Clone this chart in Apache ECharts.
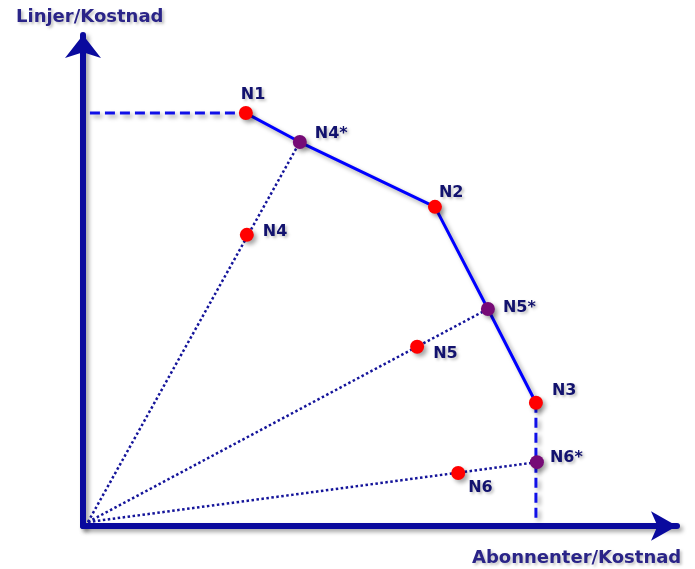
<!DOCTYPE html>
<html>
<head>
<meta charset="utf-8">
<script src="https://cdn.jsdelivr.net/npm/echarts@6/dist/echarts.min.js"></script>
<style>
  html, body { margin: 0; padding: 0; background: #fff; }
  #chart { width: 695px; height: 569px; }
</style>
</head>
<body>
<div id="chart"></div>
<script>
// observed units (red points)
var unitNames = ['N1', 'N2', 'N3', 'N4', 'N5', 'N6']
var unitX = [3.29, 7.11, 9.15, 3.31, 6.75, 7.58]
var unitY = [8.41, 6.50, 2.51, 5.93, 3.65, 1.08]

// projections on the frontier (purple points)
var projNames = ['N4*', 'N5*', 'N6*']
var projX = [4.38, 8.18, 9.17]
var projY = [7.82, 4.42, 1.30]

// frontier order: N1 -> N4* -> N2 -> N5* -> N3
var frontierX = [3.29, 4.38, 7.11, 8.18, 9.15]
var frontierY = [8.41, 7.82, 6.50, 4.42, 2.51]

var rayOrigin = [0.1, 0.08]
var dashStartX = 0.14
var dashEndY = 0.14

var axisNameY = 'Linjer/Kostnad'
var axisNameX = 'Abonnenter/Kostnad'

// label offsets (text left, text middle) from the point centre
var unitLabelOffset = [[-5, -18], [4, -14], [16, -12], [16, -3], [16, 7], [10, 15]]
var projLabelOffset = [[15, -8], [15, -1], [13, -4]]

var FONT = '"DejaVu Sans", Verdana, sans-serif'
var shadow = {
  shadowColor: 'rgba(0,0,0,0.35)',
  shadowBlur: 4,
  shadowOffsetX: 3,
  shadowOffsetY: 3
}

function pts(xs, ys) {
  var out = []
  for (var i = 0; i < xs.length; i++) out.push([xs[i], ys[i]])
  return out
}

function labelled(names, xs, ys, offsets) {
  var out = []
  for (var i = 0; i < names.length; i++) {
    out.push({
      name: names[i],
      value: [xs[i], ys[i]],
      label: {position: [offsets[i][0] + 7, offsets[i][1] + 7]}
    })
  }
  return out
}

var labelStyle = {
  show: true,
  formatter: '{b}',
  align: 'left',
  verticalAlign: 'middle',
  fontFamily: FONT,
  fontWeight: 'bold',
  fontSize: 16,
  color: '#12126e',
  textShadowColor: 'rgba(0,0,0,0.25)',
  textShadowBlur: 3,
  textShadowOffsetX: 2,
  textShadowOffsetY: 2
}

var axisLine = {
  show: true,
  symbol: ['none', 'arrow'],
  lineStyle: Object.assign({color: '#0a0a9e', width: 6}, shadow)
}

var series = []

// dotted rays from origin to projections
for (var i = 0; i < projX.length; i++) {
  series.push({
    type: 'line',
    data: [rayOrigin, [projX[i], projY[i]]],
    symbol: 'none',
    silent: true,
    z: 1,
    lineStyle: {color: '#14149a', width: 2.5, type: [2.5, 2.5]}
  })
}

// dashed extensions
series.push({
  type: 'line',
  data: [[dashStartX, frontierY[0]], [frontierX[0], frontierY[0]]],
  symbol: 'none',
  z: 2,
  lineStyle: Object.assign({color: '#1010e8', width: 3, type: [10, 5]}, shadow)
})
series.push({
  type: 'line',
  data: [[frontierX[4], frontierY[4]], [frontierX[4], dashEndY]],
  symbol: 'none',
  z: 2,
  lineStyle: Object.assign({color: '#1010e8', width: 3, type: [10, 5]}, shadow)
})

// frontier
series.push({
  type: 'line',
  data: pts(frontierX, frontierY),
  symbol: 'none',
  z: 3,
  lineStyle: Object.assign({color: '#0000ff', width: 3}, shadow)
})

series.push({
  type: 'scatter',
  data: labelled(unitNames, unitX, unitY, unitLabelOffset),
  symbolSize: 14,
  z: 5,
  itemStyle: Object.assign({color: '#ff0000', opacity: 1}, shadow),
  label: labelStyle
})
series.push({
  type: 'scatter',
  data: labelled(projNames, projX, projY, projLabelOffset),
  symbolSize: 14,
  z: 5,
  itemStyle: Object.assign({color: '#760a76', opacity: 1}, shadow),
  label: labelStyle
})

var chart = echarts.init(document.getElementById('chart'))
chart.setOption({
  backgroundColor: '#fff',
  animation: false,
  grid: {left: 83, top: 35, right: 18, bottom: 43},
  xAxis: {
    type: 'value', min: 0, max: 12,
    axisLine: Object.assign({symbolSize: [22, 26]}, axisLine),
    axisTick: {show: false}, axisLabel: {show: false}, splitLine: {show: false}
  },
  yAxis: {
    type: 'value', min: 0, max: 10,
    axisLine: Object.assign({symbolSize: [27, 23]}, axisLine),
    axisTick: {show: false}, axisLabel: {show: false}, splitLine: {show: false}
  },
  graphic: [
    {
      type: 'text', left: 16, top: 8,
      style: {
        text: axisNameY, fontFamily: FONT, fontWeight: 'bold', fontSize: 18,
        fill: '#2a2488', textShadowColor: 'rgba(0,0,0,0.25)', textShadowBlur: 3,
        textShadowOffsetX: 2, textShadowOffsetY: 2
      }
    },
    {
      type: 'text', left: 472, top: 549,
      style: {
        text: axisNameX, fontFamily: FONT, fontWeight: 'bold', fontSize: 18,
        fill: '#2a2488', textShadowColor: 'rgba(0,0,0,0.25)', textShadowBlur: 3,
        textShadowOffsetX: 2, textShadowOffsetY: 2
      }
    }
  ],
  series: series
})
</script>
</body>
</html>
